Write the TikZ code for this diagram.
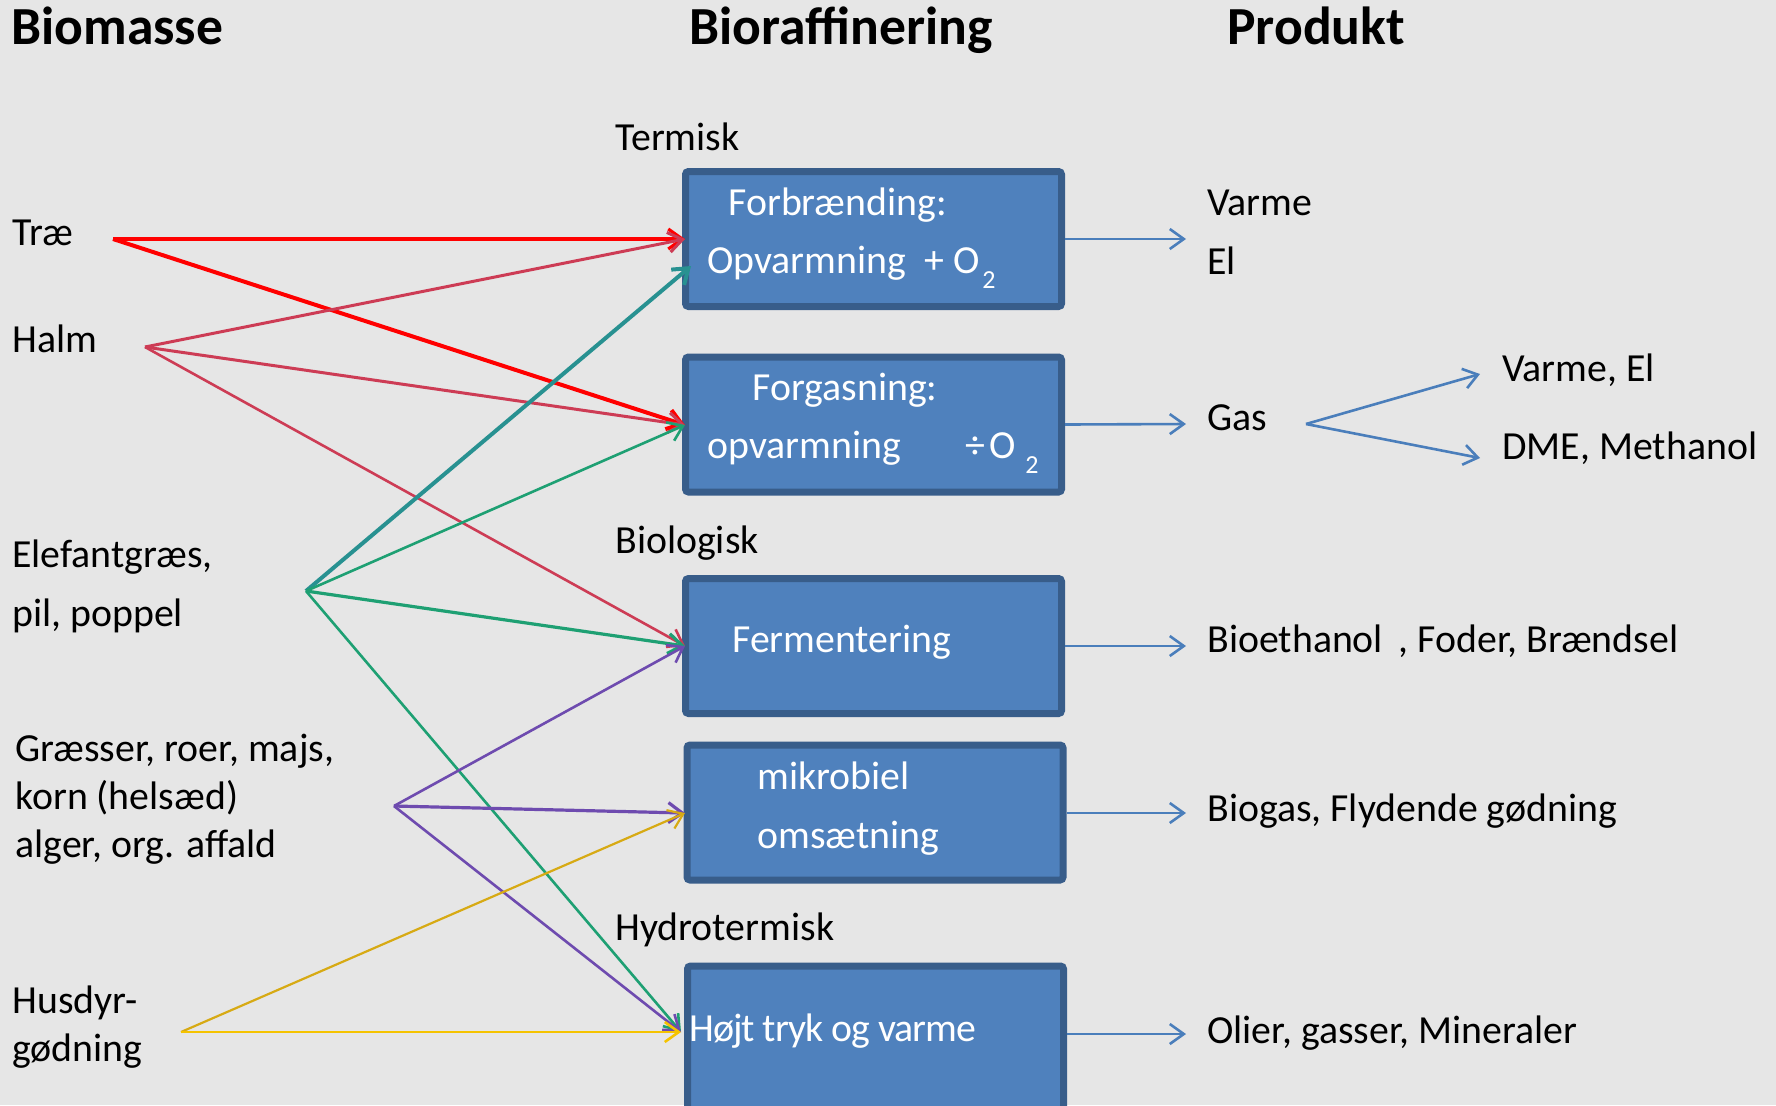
\documentclass[tikz,border=0pt]{standalone}
\usepackage{fontspec}
\setmainfont{Carlito}
\usetikzlibrary{arrows.meta}
\definecolor{bg}{RGB}{230,230,230}
\definecolor{boxfill}{RGB}{79,129,189}
\definecolor{boxline}{RGB}{56,93,138}
\definecolor{cred}{RGB}{255,0,0}
\definecolor{chalm}{RGB}{205,60,85}
\definecolor{cgreen}{RGB}{30,160,115}
\definecolor{cteal}{RGB}{40,145,145}
\definecolor{cpurple}{RGB}{110,75,175}
\definecolor{cgold}{RGB}{215,170,20}
\definecolor{cyel}{RGB}{245,195,0}
\definecolor{cblue}{RGB}{74,126,187}
\begin{document}
\begin{tikzpicture}[x=0.5pt,y=-0.5pt,
  txt/.style={anchor=base west, inner sep=0pt, font=\fontsize{19.9}{23}\selectfont},
  wtxt/.style={txt, text=white},
  ttl/.style={anchor=base west, inner sep=0pt, font=\fontsize{26.8}{30}\selectfont\bfseries},
  procbox/.style={draw=boxline, fill=boxfill, line width=3.5pt, rounded corners=1.5pt,
    minimum width=188pt, minimum height=67.5pt, inner sep=0pt},
  arr/.style={-{Straight Barb[length=7pt,width=10pt]}, line width=1.3pt},
  sub/.style={font=\fontsize{13}{13}\selectfont}]
\fill[bg] (0,0) rectangle (1776,1105);
\useasboundingbox (0,0) rectangle (1776,1105);
\clip (0,0) rectangle (1776,1105);

% titles
\node[ttl] (tBiomasse) at (11,44) {Biomasse};
\node[ttl] (tBioraf) at (689,44) {Bioraffinering};
\node[ttl] (tProdukt) at (1227,44) {Produkt};

% section labels
\node[txt] (hTerm) at (615,150) {Termisk};
\node[txt] (hBiol) at (615,553) {Biologisk};
\node[txt] (hHydro) at (615,940) {Hydrotermisk};

% biomass labels
\node[txt] (lTrae) at (12,245) {Træ};
\node[txt] (lHalm) at (12,352) {Halm};
\node[txt] (lEle1) at (12,567) {Elefantgræs,};
\node[txt] (lEle2) at (12,626) {pil, poppel};
\node[txt] (lGra1) at (15,761) {Græsser, roer, majs,};
\node[txt] (lGra2) at (15,809) {korn (helsæd)};
\node[txt] (lGra3) at (15,857) {alger, org. affald};
\node[txt] (lHus1) at (12,1013) {Husdyr-};
\node[txt] (lHus2) at (12,1061) {gødning};

% boxes
\node[procbox] (box1) at (873.5,239) {};
\node[procbox] (box2) at (873.5,424.5) {};
\node[procbox] (box3) at (873.5,646) {};
\node[procbox] (box4) at (875,812.5) {};
\node[procbox, minimum height=77pt] (box5) at (875.5,1043) {};

% box texts
\node[wtxt] (x1a) at (728,215) {Forbrænding:};
\node[wtxt] (x1b) at (707,273) {Opvarmning};
\node[wtxt] (x1c) at (924,273) {+ O};
\node[wtxt,sub] (x1d) at (982,288) {2};
\node[wtxt] (x2a) at (752,400) {Forgasning:};
\node[wtxt] (x2b) at (707,458) {opvarmning};
\node[wtxt] (x2c) at (965,458) {÷\hspace{2pt}O};
\node[wtxt,sub] (x2d) at (1025,473) {2};
\node[wtxt] (x3) at (732,652) {Fermentering};
\node[wtxt] (x4a) at (757,789) {mikrobiel};
\node[wtxt] (x4b) at (757,848) {omsætning};
\node[wtxt] (x5) at (689,1041) {\addfontfeature{LetterSpace=-2.6}Højt tryk og varme};

% product labels
\node[txt] (pVarme) at (1207,215) {Varme};
\node[txt] (pEl) at (1207,274) {El};
\node[txt] (pGas) at (1207,430) {Gas};
\node[txt] (pVarmeEl) at (1502,381) {Varme, El};
\node[txt] (pDME) at (1502,459) {DME, Methanol};
\node[txt] (pBioeth) at (1207,652) {Bioethanol\, , Foder, Brændsel};
\node[txt] (pBiogas) at (1207,821) {Biogas, Flydende gødning};
\node[txt] (pOlier) at (1207,1043) {Olier, gasser, Mineraler};

% source and target points
\coordinate (sTrae) at (113,239);
\coordinate (sHalm) at (145,347);
\coordinate (sElef) at (306,591);
\coordinate (sGras) at (394,806);
\coordinate (sHus) at (181,1032);
\coordinate (t1a) at (685,239);
\coordinate (t1b) at (691,266);
\coordinate (t2) at (685,425);
\coordinate (t3) at (685,646);
\coordinate (t4) at (685,813);
\coordinate (t5) at (681,1032);

% biomass arrows
\draw[arr, cred, line width=1.6pt] (sTrae) -- (t1a);
\draw[arr, cred, line width=2pt] (sTrae) -- (t2);
\draw[arr, chalm, line width=1.5pt] (sHalm) -- (t1a);
\draw[arr, chalm, line width=1.5pt] (sHalm) -- (t2);
\draw[arr, chalm, line width=1.3pt] (sHalm) -- (t3);
\draw[arr, cteal, line width=2pt] (sElef) -- (t1b);
\draw[arr, cgreen] (sElef) -- (t2);
\draw[arr, cgreen, line width=1.6pt] (sElef) -- (t3);
\draw[arr, cgreen] (sElef) -- (t5);
\draw[arr, cpurple] (sGras) -- (t3);
\draw[arr, cpurple, line width=1.6pt] (sGras) -- (t4);
\draw[arr, cpurple] (sGras) -- (t5);
\draw[arr, cgold, line width=1.1pt] (sHus) -- (t4);
\draw[arr, cyel, line width=1.3pt] (sHus) -- (t5);

% product arrows
\coordinate (e1) at (1186,239);
\coordinate (e2) at (1186,424);
\coordinate (e3) at (1186,646);
\coordinate (e4) at (1186,813);
\coordinate (e5) at (1186,1034);
\coordinate (gasS) at (1306,424);
\coordinate (gU) at (1480,374);
\coordinate (gD) at (1480,458);
\draw[arr, cblue] (box1.east) -- (e1);
\draw[arr, cblue] (box2.east) -- (e2);
\draw[arr, cblue] (box3.east) -- (e3);
\draw[arr, cblue] (box4.east |- e4) -- (e4);
\draw[arr, cblue] (box5.east |- e5) -- (e5);
\draw[arr, cblue] (gasS) -- (gU);
\draw[arr, cblue] (gasS) -- (gD);
\end{tikzpicture}
\end{document}
